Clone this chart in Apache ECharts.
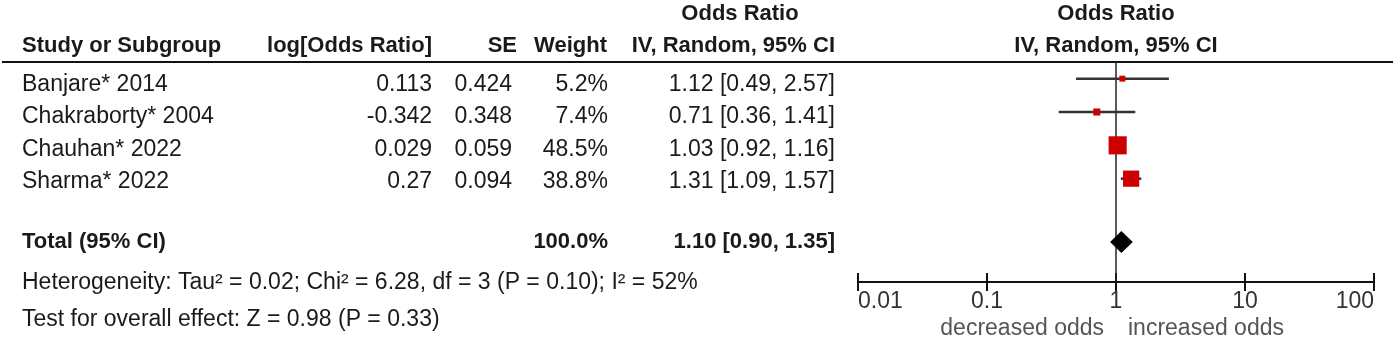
<!DOCTYPE html>
<html>
<head>
<meta charset="utf-8">
<script src="https://cdn.jsdelivr.net/npm/echarts@6/dist/echarts.min.js"></script>
<style>
  html, body { margin: 0; padding: 0; background: #fff; }
  #chart { width: 1400px; height: 343px; }
</style>
</head>
<body>
<div id="chart"></div>
<script>
// Study-level data
const studies   = ['Banjare* 2014', 'Chakraborty* 2004', 'Chauhan* 2022', 'Sharma* 2022'];
const logOddsRatio = [0.113, -0.342, 0.029, 0.27];
const standardError = [0.424, 0.348, 0.059, 0.094];
const weights   = [5.2, 7.4, 48.5, 38.8];
const oddsRatio = [1.12, 0.71, 1.03, 1.31];
const ciLower   = [0.49, 0.36, 0.92, 1.09];
const ciUpper   = [2.57, 1.41, 1.16, 1.57];

// Pooled estimate
const totalLabel  = 'Total (95% CI)';
const totalWeight = 100.0;
const totalOR     = 1.10;
const totalLower  = 0.90;
const totalUpper  = 1.35;

const heterogeneityText = 'Heterogeneity: Tau\u00b2 = 0.02; Chi\u00b2 = 6.28, df = 3 (P = 0.10); I\u00b2 = 52%';
const overallEffectText = 'Test for overall effect: Z = 0.98 (P = 0.33)';

// Axis
const axisTickValues = [0.01, 0.1, 1, 10, 100];
const axisTickLabels = ['0.01', '0.1', '1', '10', '100'];
const favoursLeft  = 'decreased odds';
const favoursRight = 'increased odds';

// ---- layout ----
const FONT = '"Liberation Sans", Arial, sans-serif';
const FS_BOLD = 22;
const FS = 23;
const TEXT = '#1a1a1a';
const rowTextY = [85, 117, 150, 182];
const totalTextY = 242;
const TOTAL_ROW = 4.9;           // vertical slot of the pooled diamond

function fmtCI(est, lo, hi) {
  return est.toFixed(2) + ' [' + lo.toFixed(2) + ', ' + hi.toFixed(2) + ']';
}

function txt(text, x, y, align, bold, color) {
  return {
    type: 'text', x: x, y: y, silent: true,
    style: {
      text: text, x: 0, y: 0,
      align: align, verticalAlign: 'middle',
      font: (bold ? 'bold ' + FS_BOLD : FS) + 'px ' + FONT,
      fill: color || TEXT
    }
  };
}

const graphics = [
  // column headers
  txt('Odds Ratio', 740, 14, 'center', true),
  txt('Odds Ratio', 1116, 14, 'center', true),
  txt('Study or Subgroup', 22, 46, 'left', true),
  txt('log[Odds Ratio]', 432, 46, 'right', true),
  txt('SE', 517, 46, 'right', true),
  txt('Weight', 607, 46, 'right', true),
  txt('IV, Random, 95% CI', 835, 46, 'right', true),
  txt('IV, Random, 95% CI', 1116, 46, 'center', true),
  {
    type: 'line', silent: true,
    shape: { x1: 2, y1: 62, x2: 1393, y2: 62 },
    style: { stroke: '#111', lineWidth: 2 }
  }
];

studies.forEach(function (name, i) {
  const y = rowTextY[i];
  graphics.push(txt(name, 22, y, 'left', false));
  graphics.push(txt(String(logOddsRatio[i]), 432, y, 'right', false));
  graphics.push(txt(standardError[i].toFixed(3), 512, y, 'right', false));
  graphics.push(txt(weights[i].toFixed(1) + '%', 608, y, 'right', false));
  graphics.push(txt(fmtCI(oddsRatio[i], ciLower[i], ciUpper[i]), 835, y, 'right', false));
});

graphics.push(txt(totalLabel, 22, totalTextY, 'left', true));
graphics.push(txt(totalWeight.toFixed(1) + '%', 608, totalTextY, 'right', true));
graphics.push(txt(fmtCI(totalOR, totalLower, totalUpper), 835, totalTextY, 'right', true));
graphics.push(txt(heterogeneityText, 22, 283, 'left', false));
graphics.push(txt(overallEffectText, 22, 320, 'left', false));
graphics.push(txt(favoursLeft, 1104, 329, 'right', false, '#555'));
graphics.push(txt(favoursRight, 1128, 329, 'left', false, '#555'));

// ---- plot data ----
const ciData = studies.map(function (_, i) { return [ciLower[i], ciUpper[i], i]; });
const pointData = studies.map(function (_, i) { return [oddsRatio[i], i, weights[i]]; });
const diamondData = [[totalLower, totalOR, totalUpper, TOTAL_ROW]];

function tickLabel(v) {
  let best = 0;
  axisTickValues.forEach(function (t, k) {
    if (Math.abs(Math.log10(t) - Math.log10(v)) < Math.abs(Math.log10(axisTickValues[best]) - Math.log10(v))) best = k;
  });
  return axisTickLabels[best];
}

const xBase = {
  type: 'log', logBase: 10,
  min: axisTickValues[0], max: axisTickValues[axisTickValues.length - 1],
  gridIndex: 0, position: 'bottom', offset: 0,
  splitLine: { show: false }
};

const chart = echarts.init(document.getElementById('chart'), null, { renderer: 'canvas' });
chart.setOption({
  backgroundColor: '#fff',
  animation: false,
  grid: { left: 858, right: 26, top: 62, bottom: 61, containLabel: false },
  xAxis: [
    Object.assign({}, xBase, {
      axisLine: { show: true, onZero: false, lineStyle: { color: '#111', width: 2 } },
      axisTick: { show: true, inside: false, length: 9, lineStyle: { color: '#111', width: 2 } },
      axisLabel: {
        show: true, margin: 8, color: '#333',
        fontFamily: FONT, fontSize: FS,
        alignMinLabel: 'left', alignMaxLabel: 'right',
        formatter: tickLabel
      }
    }),
    Object.assign({}, xBase, {
      axisLine: { show: false, onZero: false },
      axisTick: { show: true, inside: true, length: 9, lineStyle: { color: '#111', width: 2 } },
      axisLabel: { show: false }
    })
  ],
  yAxis: {
    type: 'value', inverse: true, min: -0.5, max: 6.1,
    show: false, splitLine: { show: false }
  },
  series: [
    {
      // confidence intervals + line of no effect
      type: 'custom',
      coordinateSystem: 'cartesian2d',
      z: 2,
      data: ciData,
      renderItem: function (params, api) {
        const a = api.coord([api.value(0), api.value(2)]);
        const b = api.coord([api.value(1), api.value(2)]);
        return {
          type: 'line',
          shape: { x1: a[0], y1: a[1], x2: b[0], y2: b[1] },
          style: { stroke: '#333', lineWidth: 2.5 }
        };
      },
      markLine: {
        silent: true, symbol: 'none', z: 1,
        label: { show: false },
        lineStyle: { color: '#222', width: 1.5, type: 'solid' },
        data: [{ xAxis: 1 }]
      }
    },
    {
      // study estimates, area proportional to weight
      type: 'scatter',
      z: 3,
      symbol: 'rect',
      symbolSize: function (v) { return Math.max(5, 2.6 * Math.sqrt(v[2])); },
      itemStyle: { color: '#cc0000', opacity: 1 },
      data: pointData
    },
    {
      // pooled diamond
      type: 'custom',
      coordinateSystem: 'cartesian2d',
      z: 4,
      data: diamondData,
      renderItem: function (params, api) {
        const row = api.value(3);
        const l = api.coord([api.value(0), row]);
        const m = api.coord([api.value(1), row]);
        const r = api.coord([api.value(2), row]);
        const h = 11;
        return {
          type: 'polygon',
          shape: { points: [[l[0], l[1]], [m[0], m[1] - h], [r[0], r[1]], [m[0], m[1] + h]] },
          style: { fill: '#000' }
        };
      }
    }
  ],
  graphic: graphics
});
</script>
</body>
</html>
